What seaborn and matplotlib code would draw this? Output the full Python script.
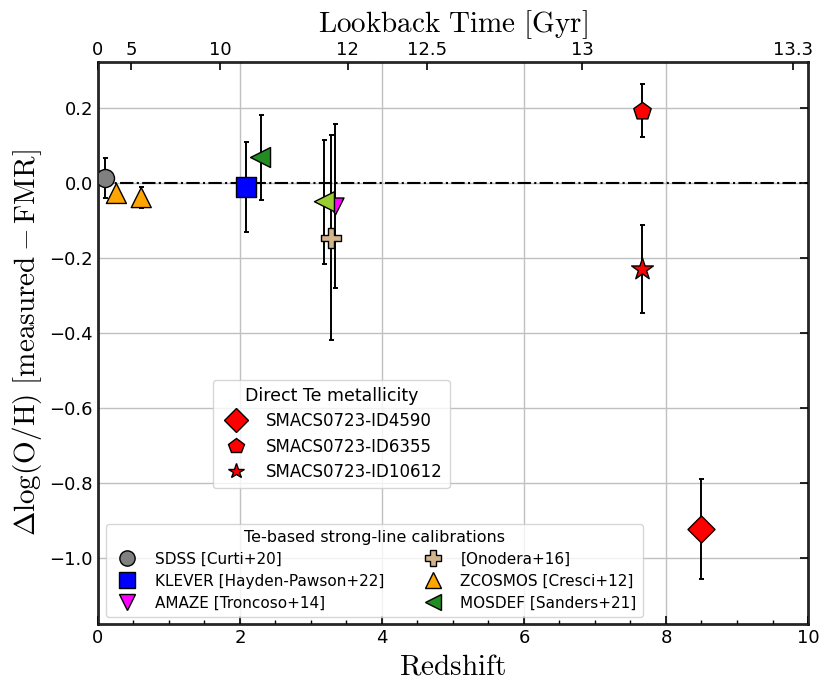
import numpy as np
import matplotlib
matplotlib.use('Agg')
import matplotlib.pyplot as plt
from matplotlib.lines import Line2D
import seaborn as sns

# Direct Te metallicity (SMACS0723)
smacs_names = ['SMACS0723-ID4590', 'SMACS0723-ID6355', 'SMACS0723-ID10612']
smacs_z = [8.50, 7.66, 7.66]
smacs_dy = [-0.923, 0.193, -0.230]
smacs_err = [0.133, 0.071, 0.118]
smacs_mark = ['D', 'p', '*']

# Te-based strong-line calibrations
cal_names = ['SDSS [Curti+20]', 'KLEVER [Hayden-Pawson+22]', 'AMAZE [Troncoso+14]',
             '[Onodera+16]', 'ZCOSMOS [Cresci+12]', 'MOSDEF [Sanders+21]']
cal_z = [[0.10], [2.08], [3.34], [3.28], [0.26, 0.61], [2.29, 3.19]]
cal_dy = [[0.013], [-0.010], [-0.061], [-0.146], [-0.028, -0.039], [0.068, -0.050]]
cal_err = [[0.054], [0.120], [0.218], [0.273], [0.010, 0.028], [0.113, 0.165]]
cal_mark = ['o', 's', 'v', 'P', '^', '<']
cal_col = [['grey'], ['blue'], ['magenta'], ['tan'], ['orange', 'orange'],
           ['forestgreen', 'yellowgreen']]

# top axis: lookback time labels and the redshifts they sit at
lb_labels = ['0', '5', '10', '12', '12.5', '13', '13.3']
lb_z = [0.0, 0.47, 1.72, 3.52, 4.63, 6.82, 9.79]

sns.set_style('white')
plt.rcParams['mathtext.fontset'] = 'cm'
plt.rcParams['xtick.direction'] = 'in'
plt.rcParams['ytick.direction'] = 'in'
for k in ['text.color', 'axes.labelcolor', 'xtick.color', 'ytick.color']:
    plt.rcParams[k] = 'black'

fig = plt.figure(figsize=(8.3, 6.93), dpi=100)
ax = fig.add_axes([0.118, 0.0996, 0.8555, 0.811])

ax.axhline(0, color='k', ls='-.', lw=1.5, zorder=1)

cal_sizes = [168, 207, 150, 207, 207, 207]
cal_handles = []
for i in range(len(cal_names)):
    ax.errorbar(cal_z[i], cal_dy[i], yerr=cal_err[i], fmt='none', ecolor='k',
                elinewidth=1.4, capsize=1.8, capthick=1.4, zorder=2)
    sns.scatterplot(x=cal_z[i], y=cal_dy[i], marker=cal_mark[i], c=cal_col[i],
                    s=cal_sizes[i], edgecolor='k', linewidth=1, zorder=3, ax=ax)
    cal_handles.append(Line2D([], [], ls='none', marker=cal_mark[i], ms=11,
                              mfc=cal_col[i][0], mec='k', mew=1))

smacs_sizes = [189, 174, 270]
smacs_handles = []
for i in range(len(smacs_names)):
    ax.errorbar(smacs_z[i], smacs_dy[i], yerr=smacs_err[i], fmt='none', ecolor='k',
                elinewidth=1.4, capsize=1.8, capthick=1.4, zorder=2)
    sns.scatterplot(x=[smacs_z[i]], y=[smacs_dy[i]], marker=smacs_mark[i], color='red',
                    s=smacs_sizes[i], edgecolor='k', linewidth=1, zorder=3, ax=ax)
    smacs_handles.append(Line2D([], [], ls='none', marker=smacs_mark[i],
                                ms=[12, 11.5, 11.5][i], mfc='red', mec='k', mew=1))

ax.set_xlim(0, 10)
ax.set_ylim(-1.177, 0.323)
ax.set_xticks([0, 2, 4, 6, 8, 10])
ax.set_xticks(np.arange(0, 10.01, 0.5), minor=True)
ax.set_yticks([-1.0, -0.8, -0.6, -0.4, -0.2, 0.0, 0.2])
ax.tick_params(axis='both', which='major', labelsize=13, length=6, width=1.2, right=True)
ax.tick_params(axis='x', which='minor', length=3, width=1)
ax.grid(True, color='#c0c0c0', lw=1)
for sp in ax.spines.values():
    sp.set_linewidth(1.8)
    sp.set_color('k')

ax.set_xlabel(r'$\mathrm{Redshift}$', fontsize=21)
ax.set_ylabel(r'$\Delta\log(\mathrm{O/H})\ [\mathrm{measured}-\mathrm{FMR}]$', fontsize=21)

ax2 = ax.twiny()
ax2.set_xlim(ax.get_xlim())
ax2.set_xticks(lb_z)
ax2.set_xticklabels(lb_labels)
ax2.tick_params(axis='x', labelsize=13, length=6, width=1.2, direction='in', pad=2)
ax2.set_xlabel(r'$\mathrm{Lookback\ Time\ [Gyr]}$', fontsize=21)
ax2.xaxis.set_label_coords(0.5, 1 + 30 / 562)
ax2.xaxis.label.set_verticalalignment('baseline')

leg1 = ax.legend(smacs_handles, smacs_names, title='Direct Te metallicity', fontsize=12,
                 title_fontsize=12.5, loc='upper left', bbox_to_anchor=(0.162, 0.434),
                 borderaxespad=0, frameon=True, handletextpad=0.8, borderpad=0.4,
                 labelspacing=0.45, handlelength=2.0)
ax.add_artist(leg1)
ax.legend(cal_handles, cal_names, title='Te-based strong-line calibrations', fontsize=11,
          title_fontsize=11.5, ncol=2, loc='lower left', bbox_to_anchor=(0.011, 0.0125),
          borderaxespad=0, frameon=True, handletextpad=0.8, borderpad=0.4,
          labelspacing=0.46, columnspacing=2.2, handlelength=2.0)

fig.savefig('out.png', dpi=100)
